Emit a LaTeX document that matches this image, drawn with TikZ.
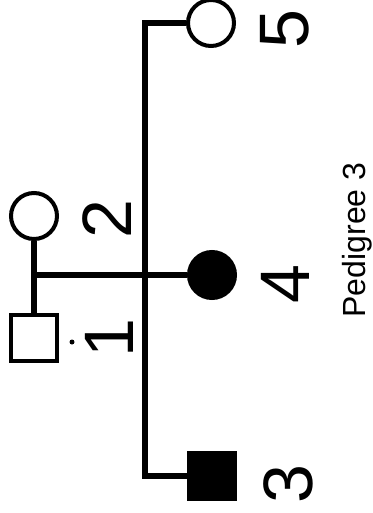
\documentclass[tikz,border=0pt]{standalone}
\usepackage{fontspec}
\setmainfont{Liberation Sans}
\usepackage{tikz}
\usetikzlibrary{positioning,shapes}
\tikzstyle{male} = [draw, rectangle, line width=4pt, minimum size=46pt, inner sep=0pt]
\tikzstyle{female} = [draw, circle, line width=4pt, minimum size=46pt, inner sep=0pt]
\tikzstyle{affected} = [fill=black]
\tikzstyle{dotmark} = [fill=black, circle, minimum size=5pt, inner sep=0pt]
\tikzstyle{num} = [rotate=90, inner sep=0pt, font=\fontsize{70}{70}\selectfont]
\tikzstyle{caption} = [rotate=90, inner sep=0pt, font=\fontsize{32}{32}\selectfont]
\tikzstyle{link} = [line width=6pt, line join=miter]

\begin{document}
\begin{tikzpicture}[x=1pt, y=-1pt]
    \useasboundingbox (0,0) rectangle (372,513);
    % parents
    \node [male] (p1) at (34,338) {};
    \node [female] (p2) at (34,216) {};
    \node [dotmark] (d1) at (72,342) {};
    % children
    \node [male, affected] (c3) at (212,476) {};
    \node [female, affected] (c4) at (212,275) {};
    \node [female] (c5) at (211,23) {};
    % labels
    \node [num] (l1) at (109,338) {1};
    \node [num] (l2) at (107,219) {2};
    \node [num] (l3) at (288,484) {3};
    \node [num] (l4) at (285,284) {4};
    \node [num] (l5) at (285,29) {5};
    \node [caption] (title) at (357,240) {Pedigree 3};

    \coordinate (m) at (34,275);
    \coordinate (s5) at (145,23);
    \coordinate (s3) at (145,476);

    \draw [link] (p2.south) -- (p1.north);
    \draw [link] (m) -- (c4.west);
    \draw [link] (c5.west) -- (s5) -- (s3) -- (c3.west);
\end{tikzpicture}
\end{document}
